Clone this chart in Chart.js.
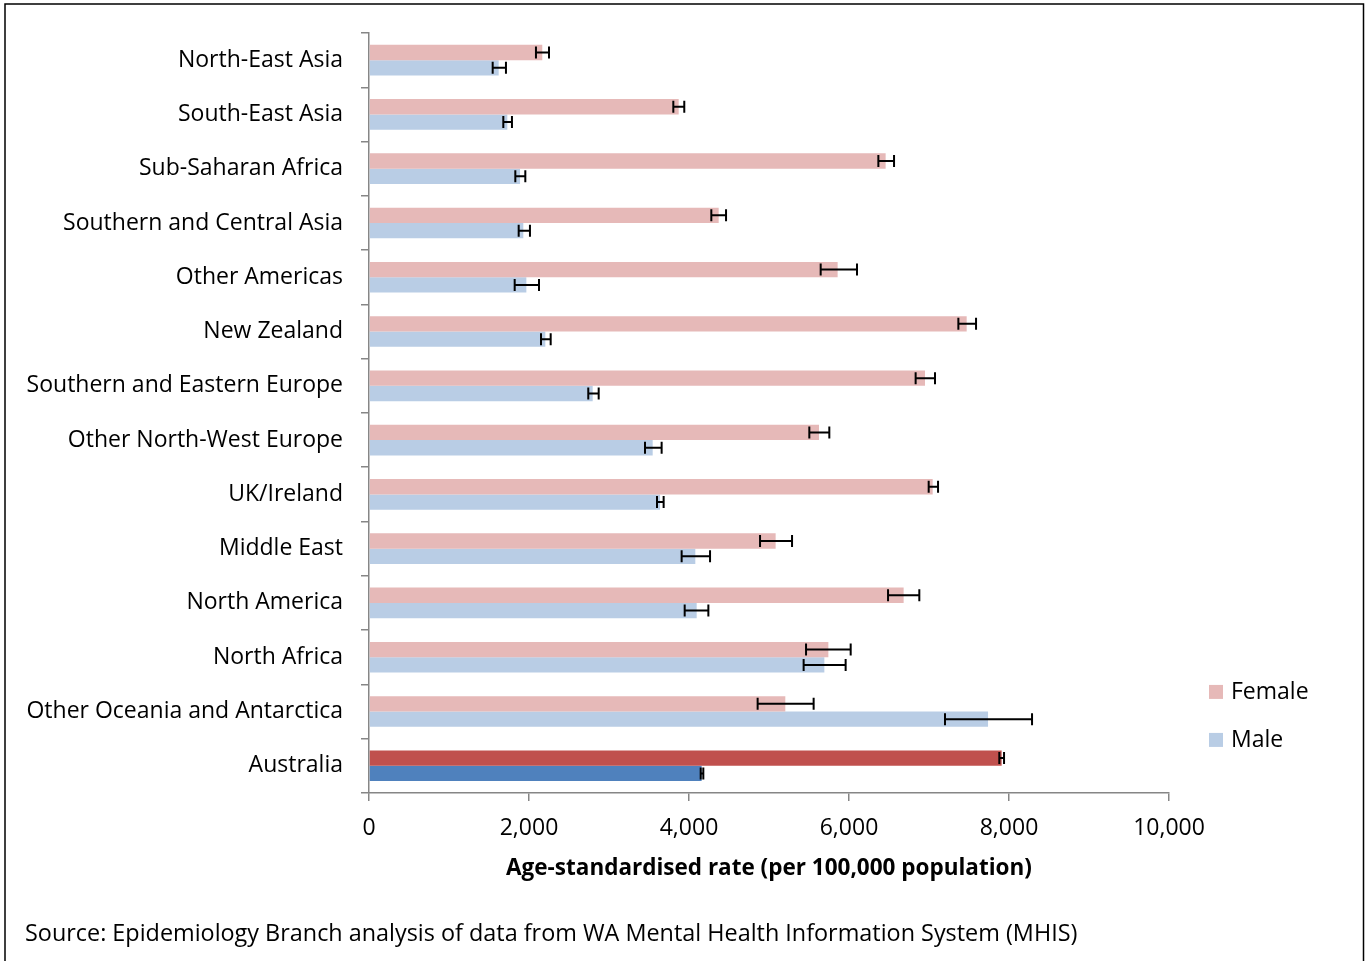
<!DOCTYPE html>
<html>
<head>
<meta charset="utf-8">
<script src="https://cdn.jsdelivr.net/npm/chart.js@4.4.1/dist/chart.umd.min.js"></script>
<style>
  html, body { margin: 0; padding: 0; background: #fff; }
  #wrap { position: relative; width: 1368px; height: 961px; }
</style>
</head>
<body>
<div id="wrap"><canvas id="rates" width="1368" height="961"></canvas></div>
<script>
var categories = ["North-East Asia", "South-East Asia", "Sub-Saharan Africa", "Southern and Central Asia",
                  "Other Americas", "New Zealand", "Southern and Eastern Europe", "Other North-West Europe",
                  "UK/Ireland", "Middle East", "North America", "North Africa",
                  "Other Oceania and Antarctica", "Australia"];

var female     = [2166, 3871, 6458, 4371, 5858, 7471, 6950, 5625, 7046, 5083, 6683, 5742, 5204, 7908];
var femaleLow  = [2087, 3804, 6367, 4279, 5646, 7367, 6833, 5504, 6996, 4888, 6488, 5463, 4858, 7879];
var femaleHigh = [2250, 3941, 6563, 4463, 6100, 7588, 7075, 5754, 7113, 5288, 6879, 6021, 5558, 7938];

var male     = [1621, 1729, 1888, 1929, 1967, 2204, 2796, 3546, 3638, 4079, 4096, 5692, 7738, 4158];
var maleLow  = [1546, 1679, 1829, 1871, 1821, 2150, 2741, 3450, 3600, 3908, 3946, 5433, 7200, 4146];
var maleHigh = [1712, 1787, 1954, 2012, 2125, 2271, 2871, 3658, 3683, 4263, 4242, 5958, 8288, 4179];

var xTicks = [0, 2000, 4000, 6000, 8000, 10000];

var FONT = "'Open Sans', sans-serif";
var FEMALE_LIGHT = '#E6B9B8', FEMALE_DARK = '#C0504D';
var MALE_LIGHT = '#B9CDE5', MALE_DARK = '#4F81BD';
var AXIS_GREY = '#868686';

// Australia is highlighted with the darker shade
function shades(light, dark) {
    return categories.map(function (c) { return c === 'Australia' ? dark : light; });
}

// draw the confidence interval whiskers on top of every bar
var errorBars = {
    id: 'errorBars',
    afterDatasetsDraw: function (chart) {
        var ctx = chart.ctx;
        var x = chart.scales.x;
        var ranges = [[femaleLow, femaleHigh], [maleLow, maleHigh]];
        ctx.save();
        ctx.strokeStyle = '#000';
        ctx.lineWidth = 2;
        ranges.forEach(function (r, di) {
            chart.getDatasetMeta(di).data.forEach(function (bar, i) {
                var x1 = x.getPixelForValue(r[0][i]);
                var x2 = x.getPixelForValue(r[1][i]);
                var y = bar.y;
                var cap = 6;
                ctx.beginPath();
                ctx.moveTo(x1, y); ctx.lineTo(x2, y);
                ctx.moveTo(x1, y - cap); ctx.lineTo(x1, y + cap);
                ctx.moveTo(x2, y - cap); ctx.lineTo(x2, y + cap);
                ctx.stroke();
            });
        });
        ctx.restore();
    }
};

// legend at the lower right, plus the outer frame
var sideLegend = {
    id: 'sideLegend',
    afterDraw: function (chart) {
        var ctx = chart.ctx;
        var area = chart.chartArea;
        var items = [['Female', FEMALE_LIGHT], ['Male', MALE_LIGHT]];
        ctx.save();
        ctx.font = '23px ' + FONT;
        ctx.textBaseline = 'middle';
        items.forEach(function (it, i) {
            var left = area.right + 40;
            var y = area.bottom - 101 + i * 48;
            ctx.fillStyle = it[1];
            ctx.fillRect(left, y - 7, 14, 14);
            ctx.fillStyle = '#000';
            ctx.fillText(it[0], left + 22, y + 1);
        });
        ctx.strokeStyle = '#000';
        ctx.lineWidth = 1.5;
        ctx.strokeRect(5, 4, 1358.5, 980);
        ctx.restore();
    }
};

new Chart(document.getElementById('rates'), {
    type: 'bar',
    data: {
        labels: categories,
        datasets: [{
            label: 'Female',
            data: female,
            backgroundColor: shades(FEMALE_LIGHT, FEMALE_DARK),
            categoryPercentage: 0.565,
            barPercentage: 1
        }, {
            label: 'Male',
            data: male,
            backgroundColor: shades(MALE_LIGHT, MALE_DARK),
            categoryPercentage: 0.565,
            barPercentage: 1
        }]
    },
    options: {
        indexAxis: 'y',
        responsive: false,
        animation: false,
        devicePixelRatio: 1,
        layout: { padding: { left: 25, right: 199, top: 33, bottom: 0 } },
        plugins: {
            legend: { display: false },
            tooltip: { enabled: false },
            subtitle: {
                display: true,
                position: 'bottom',
                align: 'start',
                text: 'Source: Epidemiology Branch analysis of data from WA Mental Health Information System (MHIS)',
                color: '#000',
                font: { family: FONT, size: 23.4 },
                padding: { top: 27, bottom: 13 }
            }
        },
        scales: {
            y: {
                grid: {
                    offset: true,
                    drawOnChartArea: false,
                    drawTicks: true,
                    tickLength: 8,
                    color: AXIS_GREY,
                    lineWidth: 1.5
                },
                border: { color: AXIS_GREY, width: 1.5 },
                ticks: { color: '#000', padding: 18, font: { family: FONT, size: 23 } },
                afterFit: function (scale) { scale.width = 344; }
            },
            x: {
                min: 0,
                max: 10000,
                afterBuildTicks: function (scale) {
                    scale.ticks = xTicks.map(function (v) { return { value: v }; });
                },
                grid: {
                    drawOnChartArea: false,
                    drawTicks: true,
                    tickLength: 8,
                    color: AXIS_GREY,
                    lineWidth: 1.5
                },
                border: { color: AXIS_GREY, width: 1.5 },
                ticks: {
                    color: '#000',
                    padding: 14,
                    font: { family: FONT, size: 23 },
                    callback: function (v) { return v.toLocaleString('en-US'); }
                },
                title: {
                    display: true,
                    text: 'Age-standardised rate (per 100,000 population)',
                    color: '#000',
                    font: { family: FONT, size: 22.5, weight: 'bold' },
                    padding: { top: 10, bottom: 11 }
                },
                afterFit: function (scale) { scale.height = 100; }
            }
        }
    },
    plugins: [errorBars, sideLegend]
});
</script>
</body>
</html>
